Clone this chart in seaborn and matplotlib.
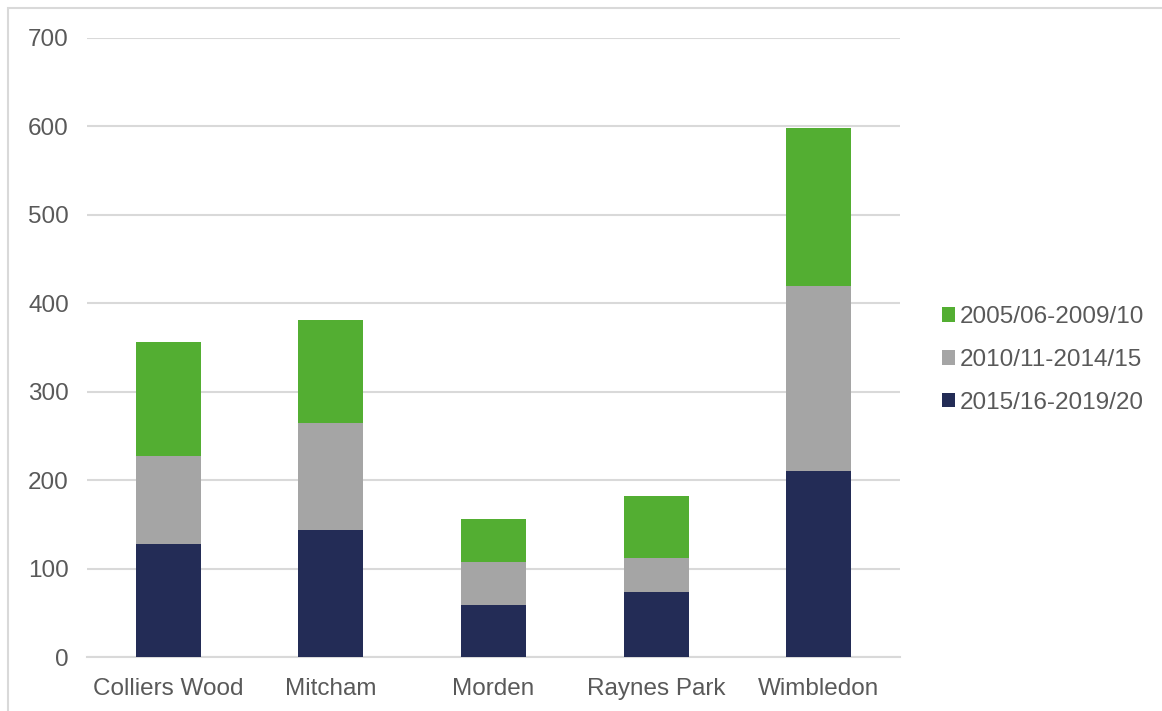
import pandas as pd
import matplotlib.pyplot as plt
import seaborn as sns
from matplotlib.patches import Patch, Rectangle

# Data
areas = ["Colliers Wood", "Mitcham", "Morden", "Raynes Park", "Wimbledon"]
p2015 = [128, 144, 59, 73, 210]   # 2015/16-2019/20
p2010 = [99, 121, 48, 39, 210]    # 2010/11-2014/15
p2005 = [129, 116, 49, 70, 178]   # 2005/06-2009/10
series_names = ["2005/06-2009/10", "2010/11-2014/15", "2015/16-2019/20"]
colors = ["#53AE32", "#A5A5A5", "#232C56"]

df = pd.DataFrame({"area": areas, "p2015": p2015, "p2010": p2010, "p2005": p2005})
df["c2015"] = df["p2015"]
df["c2010"] = df["p2015"] + df["p2010"]
df["c2005"] = df["c2010"] + df["p2005"]

sns.set_style("white")
plt.rcParams["font.family"] = ["Liberation Sans", "DejaVu Sans"]
text_color = "#595959"
grid_color = "#D9D9D9"

fig, ax = plt.subplots(figsize=(11.62, 7.11), dpi=100)
fig.subplots_adjust(left=87 / 1162, right=900 / 1162, top=1 - 38 / 711, bottom=1 - 657 / 711)

# Stacked bars: draw cumulative totals from top series down
for col, color in zip(["c2005", "c2010", "c2015"], colors):
    sns.barplot(data=df, x="area", y=col, color=color, width=0.4,
                saturation=1, linewidth=0, ax=ax, zorder=3)

ax.set_ylim(0, 700)
ax.set_xlim(-0.5, 4.5)
ax.set_yticks(range(0, 701, 100))
ax.set_xlabel("")
ax.set_ylabel("")
ax.yaxis.grid(True, color=grid_color, linewidth=1.5)
ax.set_axisbelow(True)
for side in ["left", "right", "top"]:
    ax.spines[side].set_visible(False)
ax.spines["bottom"].set_color(grid_color)
ax.spines["bottom"].set_linewidth(1.5)
ax.tick_params(axis="both", length=0, labelsize=17.5, labelcolor=text_color)
ax.tick_params(axis="y", pad=13)
ax.tick_params(axis="x", pad=15)

handles = [Patch(facecolor=c, edgecolor="none") for c in colors]
fig.legend(handles, series_names, loc="center left", bbox_to_anchor=(920 / 1162, 1 - 360 / 711),
           frameon=False, fontsize=17.5, labelcolor=text_color, handlelength=0.55,
           handleheight=0.55, handletextpad=0.2, labelspacing=0.85)

# light frame around the chart area
fig.patches.append(Rectangle((8 / 1162, -0.1), 1.2, 1.1 - 8 / 711, transform=fig.transFigure,
                             fill=False, edgecolor=grid_color, linewidth=1.5))

plt.savefig("out.png", dpi=100)
